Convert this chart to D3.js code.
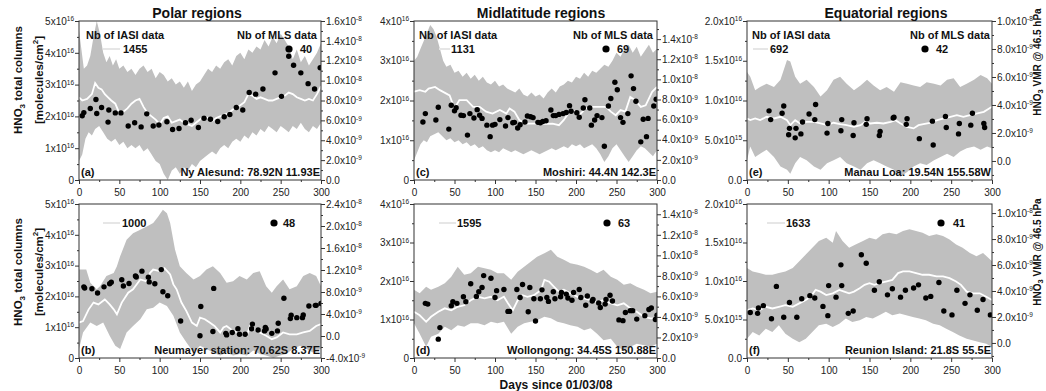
<!DOCTYPE html>
<html>
<head>
<meta charset="utf-8">
<script src="https://cdn.jsdelivr.net/npm/d3@7"></script>
<style>
  body { margin: 0; background: #fff; }
  svg { font-family: "Liberation Sans", Arial, sans-serif; }
  .axis text { font-size: 10px; fill: #222; }
  .axis .domain { stroke: none; }
  .axis line { stroke: #333; }
  .lbl { font-weight: bold; fill: #111; }
</style>
</head>
<body>
<svg id="chart" width="1046" height="391"></svg>
<script>
// values in 1e16 molecules/cm2, x in days since 01/03/08
const xTicks = [0, 50, 100, 150, 200, 250, 300];

// (a) Ny Alesund
const iasiUpperA = [[0,4.7],[3,4.1],[6,3.5],[10,3.6],[14,3.9],[18,4.5],[22,5.0],[26,4.6],[30,4.0],[34,3.7],[38,3.9],[42,3.6],[46,3.8],[50,3.5],[55,3.6],[60,3.4],[65,3.5],[70,3.3],[75,3.5],[80,3.6],[85,3.4],[90,3.5],[95,3.2],[100,3.4],[105,3.3],[110,3.1],[115,3.2],[120,3.0],[125,3.1],[130,2.9],[135,3.1],[140,2.8],[145,3.0],[150,3.1],[155,3.3],[160,3.5],[165,3.4],[170,3.6],[175,3.5],[180,3.7],[185,3.8],[190,3.6],[195,3.9],[200,4.0],[205,3.8],[210,4.1],[215,4.0],[220,4.2],[225,4.1],[230,4.4],[235,4.2],[240,4.5],[245,4.3],[250,4.6],[255,4.4],[260,4.2],[265,3.8],[270,4.1],[275,3.7],[280,3.9],[285,3.6],[290,3.8],[295,4.0],[300,4.3]];
const iasiMeanA = [[0,2.6],[4,2.5],[10,2.55],[16,2.7],[20,3.05],[24,2.9],[28,2.85],[32,2.7],[36,2.6],[40,2.5],[45,2.4],[50,2.1],[55,2.15],[60,2.25],[65,2.4],[70,2.5],[75,2.55],[80,2.3],[85,2.1],[90,2.0],[95,1.9],[100,1.75],[105,1.95],[110,2.0],[115,1.8],[120,1.85],[125,1.9],[130,1.8],[135,1.75],[140,1.7],[145,1.8],[150,1.9],[155,2.0],[160,1.95],[165,1.85],[170,1.95],[175,2.0],[180,2.05],[185,2.1],[190,2.2],[195,2.3],[200,2.35],[205,2.45],[210,2.7],[215,2.65],[220,2.55],[225,2.6],[230,2.55],[235,2.5],[240,2.5],[245,2.55],[250,2.6],[255,2.65],[260,2.75],[265,2.7],[270,2.6],[275,2.55],[280,2.5],[285,2.55],[290,2.5],[295,2.7],[300,2.95]];
const iasiLowerA = [[0,0.6],[4,0.8],[8,1.3],[12,1.5],[16,1.4],[20,1.6],[25,1.7],[30,1.5],[35,1.3],[40,1.2],[45,1.3],[50,1.1],[55,1.2],[60,1.0],[65,1.1],[70,1.0],[75,1.1],[80,0.9],[85,1.0],[90,0.8],[95,0.6],[100,0.5],[105,0.2],[110,0.0],[115,0.3],[120,0.4],[125,0.2],[130,0.4],[135,0.3],[140,0.5],[145,0.4],[150,0.6],[155,0.7],[160,0.8],[165,0.9],[170,0.8],[175,1.0],[180,1.1],[185,1.0],[190,1.2],[195,1.3],[200,1.2],[205,1.4],[210,1.3],[215,1.5],[220,1.4],[225,1.6],[230,1.5],[235,1.7],[240,1.6],[245,1.5],[250,1.7],[255,1.6],[260,1.5],[265,1.7],[270,1.6],[275,1.8],[280,1.6],[285,1.5],[290,1.7],[295,1.6],[300,1.8]];
const mlsA = [[4,2.02],[6,2.12],[14,2.25],[21,2.53],[22,2.09],[28,2.28],[36,1.82],[37,2.2],[45,2.11],[52,2.11],[61,1.70],[69,1.80],[77,1.67],[84,2.08],[92,1.70],[99,1.73],[109,1.83],[116,1.59],[124,1.62],[132,1.80],[139,1.88],[148,1.65],[155,1.94],[163,1.91],[172,1.84],[180,1.99],[187,2.06],[195,2.28],[203,2.20],[211,2.75],[219,2.70],[228,2.86],[243,3.37],[251,2.63],[260,3.89],[266,3.61],[275,3.37],[284,3.03],[292,2.86],[299,3.53]];

// (c) Moshiri
const iasiUpperC = [[0,3.0],[4,3.1],[8,3.3],[12,3.5],[16,3.7],[20,3.9],[24,3.8],[28,3.6],[32,3.3],[36,3.0],[40,2.85],[45,2.9],[50,2.7],[55,2.75],[60,2.6],[65,2.7],[70,2.55],[75,2.65],[80,2.5],[85,2.6],[90,2.45],[95,2.4],[100,2.5],[105,2.35],[110,2.4],[115,2.3],[120,2.25],[125,2.2],[130,2.3],[135,2.15],[140,2.1],[145,2.2],[150,2.1],[155,2.15],[160,2.05],[165,2.2],[170,2.3],[175,2.2],[180,2.35],[185,2.4],[190,2.5],[195,2.45],[200,2.6],[205,2.55],[210,2.7],[215,2.6],[220,2.75],[225,2.7],[230,2.8],[235,2.9],[240,2.85],[245,3.0],[250,3.2],[255,3.1],[260,3.3],[265,3.4],[270,3.2],[275,3.35],[280,3.1],[285,3.25],[290,3.4],[295,3.2],[300,3.3]];
const iasiMeanC = [[0,2.22],[7,2.26],[14,2.22],[18,2.30],[26,2.34],[32,2.26],[44,2.13],[50,1.80],[56,2.01],[65,2.01],[73,1.84],[81,1.84],[89,1.72],[97,1.67],[106,1.76],[114,1.67],[118,1.80],[124,1.72],[130,1.51],[138,1.42],[147,1.42],[155,1.42],[163,1.41],[171,1.42],[179,1.38],[185,1.51],[192,1.72],[196,1.76],[204,1.63],[212,1.80],[220,1.84],[228,1.84],[237,1.84],[243,1.72],[249,1.63],[255,1.76],[261,1.72],[267,2.09],[273,2.01],[280,1.84],[286,1.88],[294,2.22],[300,2.34]];
const iasiLowerC = [[0,0.5],[4,0.7],[8,0.9],[12,1.0],[16,0.95],[20,1.1],[25,1.15],[30,1.2],[35,1.1],[40,1.0],[45,1.05],[50,0.95],[55,1.0],[60,0.9],[65,0.95],[70,0.85],[75,0.9],[80,0.8],[85,0.85],[90,0.75],[95,0.7],[100,0.75],[105,0.7],[110,0.8],[115,0.75],[120,0.7],[125,0.75],[130,0.7],[135,0.65],[140,0.7],[145,0.75],[150,0.7],[155,0.65],[160,0.7],[165,0.75],[170,0.8],[175,0.75],[180,0.8],[185,0.85],[190,0.8],[195,0.9],[200,0.85],[205,0.9],[210,0.8],[215,0.85],[220,0.9],[225,0.8],[230,0.65],[235,0.45],[240,0.6],[245,0.8],[250,0.9],[255,0.75],[260,0.6],[265,0.45],[270,0.6],[275,0.75],[280,0.85],[285,0.8],[290,0.7],[295,0.6],[300,0.75]];
const mlsC = [[11,1.46],[14,1.67],[27,1.51],[30,1.83],[43,1.28],[46,1.88],[50,1.74],[52,1.82],[58,1.63],[61,1.62],[66,1.13],[69,1.67],[74,1.56],[78,1.77],[81,1.63],[84,1.55],[90,1.38],[94,1.09],[97,1.38],[100,1.40],[106,1.52],[113,1.36],[116,1.57],[122,1.44],[124,1.45],[128,1.31],[131,1.39],[137,1.46],[140,1.61],[144,1.59],[147,1.57],[153,1.45],[156,1.44],[159,1.47],[163,1.49],[169,1.76],[172,1.62],[175,1.62],[179,1.65],[184,1.67],[188,1.70],[192,1.87],[194,1.73],[201,1.69],[204,1.58],[209,1.81],[211,2.02],[217,1.81],[219,1.38],[223,1.51],[226,1.62],[232,1.57],[235,0.85],[240,1.86],[243,2.05],[248,2.46],[251,2.27],[255,1.57],[258,1.45],[264,1.67],[268,2.62],[271,2.30],[274,1.98],[280,0.96],[283,1.53],[287,1.09],[289,1.55],[296,1.86],[299,2.03]];

// (e) Manau Loa
const iasiUpperE = [[0,1.36],[4,1.30],[10,1.13],[16,1.17],[24,1.21],[33,1.17],[41,1.26],[49,1.51],[53,1.49],[59,1.30],[65,1.21],[73,1.26],[82,1.17],[90,1.05],[98,1.13],[106,1.26],[114,1.30],[122,1.21],[131,1.13],[139,1.19],[147,1.26],[155,1.19],[163,1.13],[171,1.17],[180,1.11],[188,1.23],[196,1.21],[204,1.19],[212,1.17],[220,1.23],[229,1.21],[237,1.19],[245,1.26],[253,1.28],[261,1.17],[269,1.21],[278,1.26],[286,1.32],[294,1.28],[300,1.21]];
const iasiMeanE = [[0,0.774],[4,0.753],[10,0.774],[16,0.753],[24,0.795],[33,0.774],[41,0.795],[49,0.753],[53,0.690],[59,0.753],[65,0.711],[73,0.732],[82,0.732],[90,0.711],[98,0.690],[106,0.720],[114,0.703],[122,0.690],[131,0.669],[139,0.690],[145,0.732],[151,0.711],[159,0.720],[167,0.711],[176,0.732],[182,0.753],[188,0.711],[196,0.669],[204,0.649],[210,0.690],[216,0.703],[224,0.720],[233,0.753],[241,0.774],[249,0.795],[257,0.816],[265,0.795],[273,0.816],[282,0.837],[290,0.858],[300,0.921]];
const iasiLowerE = [[0,0.25],[4,0.42],[10,0.29],[16,0.33],[24,0.38],[33,0.29],[41,0.17],[49,0.13],[53,0.08],[59,0.21],[65,0.29],[73,0.25],[82,0.17],[90,0.13],[98,0.21],[106,0.25],[114,0.29],[122,0.21],[131,0.17],[139,0.13],[147,0.21],[155,0.25],[163,0.21],[171,0.17],[180,0.13],[188,0.04],[196,0.10],[204,0.17],[212,0.21],[220,0.19],[229,0.25],[237,0.29],[245,0.33],[253,0.29],[261,0.36],[269,0.40],[278,0.42],[286,0.38],[294,0.42],[300,0.40]];
const mlsE = [[27,0.87],[29,0.76],[43,0.84],[45,0.93],[51,0.57],[52,0.65],[59,0.53],[60,0.65],[66,0.58],[68,0.73],[76,0.83],[83,0.76],[84,0.95],[98,0.59],[99,0.71],[115,0.62],[116,0.76],[130,0.56],[131,0.72],[146,0.70],[147,0.77],[162,0.56],[163,0.61],[179,0.78],[180,0.79],[195,0.70],[196,0.77],[211,0.52],[227,0.74],[228,0.44],[243,0.80],[244,0.66],[259,0.58],[260,0.71],[274,0.69],[276,0.84],[290,0.71],[291,0.66]];

// (b) Neumayer station
const iasiUpperB = [[0,2.87],[9,2.87],[14,2.44],[22,2.23],[26,2.33],[34,2.66],[43,2.76],[47,2.98],[51,3.30],[59,3.84],[67,4.05],[76,4.16],[84,4.27],[92,4.38],[98,4.59],[104,4.81],[109,4.70],[113,4.38],[119,3.52],[125,2.98],[133,2.76],[142,2.55],[150,2.66],[158,2.87],[166,2.98],[175,2.76],[183,2.44],[191,2.49],[199,2.66],[208,2.55],[216,2.76],[224,2.82],[232,2.33],[239,2.12],[245,2.33],[253,2.55],[261,2.23],[270,2.33],[278,2.66],[286,2.76],[294,2.66],[300,2.33]];
const iasiMeanB = [[0,1.15],[5,1.20],[12,1.58],[18,1.80],[24,1.74],[32,1.90],[38,1.74],[43,1.58],[47,1.42],[53,1.80],[61,2.12],[67,2.23],[76,2.55],[84,2.49],[88,2.76],[92,2.87],[100,2.82],[106,2.92],[113,2.71],[117,2.39],[121,2.23],[127,1.80],[133,1.53],[140,1.15],[146,1.04],[150,1.31],[156,1.26],[162,1.15],[168,1.04],[175,0.83],[179,0.99],[183,1.04],[191,0.88],[199,0.83],[208,0.72],[212,1.04],[218,0.94],[224,0.83],[232,0.72],[239,0.61],[245,0.67],[253,0.83],[261,0.77],[270,0.77],[278,0.83],[286,0.88],[294,1.04],[300,1.10]];
const iasiLowerB = [[0,0.29],[5,0.83],[14,1.15],[22,1.04],[30,1.15],[38,0.72],[45,0.40],[51,0.29],[59,0.83],[67,1.04],[76,1.26],[84,1.58],[92,1.63],[100,1.80],[109,1.69],[117,1.37],[125,0.83],[133,0.51],[142,0.18],[150,0.40],[158,0.29],[166,0.18],[175,0.08],[183,0.18],[191,0.08],[199,0.13],[208,0.08],[216,0.24],[224,0.13],[232,0.08],[241,0.00],[249,0.08],[257,0.13],[265,0.29],[274,0.40],[282,0.29],[290,0.18],[300,0.29]];
const mlsB = [[6,2.31],[7,2.27],[16,2.25],[23,2.11],[31,2.31],[38,2.41],[40,2.46],[53,2.54],[55,2.34],[62,2.42],[70,2.66],[71,2.63],[78,2.82],[86,2.62],[87,2.47],[94,2.41],[102,2.87],[104,2.15],[110,2.02],[126,1.20],[150,0.72],[151,1.67],[166,0.86],[167,2.26],[182,0.80],[183,0.75],[190,0.83],[197,0.95],[199,0.77],[206,0.77],[214,0.95],[215,1.10],[222,0.91],[230,0.88],[231,0.99],[232,0.94],[239,0.80],[246,0.88],[247,1.13],[254,1.94],[262,1.28],[263,1.39],[270,1.31],[277,1.31],[278,1.40],[285,1.69],[293,1.71],[294,1.71],[300,1.77]];

// (d) Wollongong
const iasiUpperD = [[0,1.77],[7,1.68],[15,1.85],[21,1.77],[30,1.85],[38,1.94],[46,2.11],[54,2.37],[62,2.16],[70,2.20],[79,2.37],[87,2.33],[95,2.29],[103,2.20],[111,2.20],[120,2.03],[128,2.24],[136,2.37],[144,2.50],[152,2.63],[161,2.72],[169,2.81],[177,2.63],[185,2.55],[193,2.46],[202,2.42],[210,2.37],[218,2.29],[226,2.20],[234,2.29],[243,2.11],[251,2.03],[259,1.90],[267,1.94],[275,1.85],[284,1.77],[292,1.68],[300,1.72]];
const iasiMeanD = [[0,1.20],[7,1.11],[15,0.94],[21,1.07],[30,1.20],[38,1.29],[46,1.24],[54,1.33],[62,1.37],[70,1.50],[79,1.59],[87,1.55],[95,1.59],[103,1.50],[111,1.59],[116,1.42],[122,1.24],[128,1.50],[134,1.63],[140,1.59],[148,1.63],[157,1.77],[161,2.03],[167,1.98],[173,1.85],[179,1.72],[185,1.77],[193,1.68],[202,1.59],[210,1.55],[218,1.50],[226,1.46],[234,1.50],[243,1.42],[251,1.37],[259,1.42],[267,1.29],[275,1.20],[284,1.07],[292,1.03],[300,1.03]];
const iasiLowerD = [[0,0.90],[7,0.63],[15,0.29],[21,0.55],[30,0.63],[38,0.81],[46,0.72],[54,0.85],[62,0.81],[70,0.90],[79,0.90],[87,0.85],[95,0.94],[103,0.90],[111,0.94],[120,0.63],[128,0.81],[136,0.90],[144,0.94],[152,0.98],[161,1.07],[169,1.03],[177,0.94],[185,0.90],[193,0.85],[202,0.81],[210,0.72],[218,0.77],[226,0.63],[234,0.46],[243,0.50],[251,0.29],[259,0.20],[267,0.29],[275,0.37],[284,0.33],[292,0.29],[300,0.37]];
const mlsD = [[14,1.42],[17,1.40],[30,0.49],[32,0.79],[46,1.36],[48,1.46],[53,1.42],[61,1.59],[64,1.46],[70,1.93],[77,1.60],[80,1.72],[84,1.83],[86,2.14],[95,2.07],[100,1.57],[102,1.75],[111,1.78],[116,1.21],[118,1.21],[127,1.78],[131,1.57],[134,1.91],[141,1.20],[143,1.83],[148,1.54],[150,0.96],[156,1.54],[158,1.77],[164,1.57],[166,1.47],[172,1.72],[174,1.54],[181,1.59],[182,1.70],[188,1.66],[190,1.56],[195,1.50],[197,1.70],[204,1.78],[206,1.57],[212,1.37],[214,1.61],[220,1.48],[221,1.52],[228,1.43],[230,1.31],[236,1.40],[237,1.52],[242,1.63],[245,1.48],[253,0.99],[258,0.97],[261,1.18],[267,1.23],[270,1.23],[275,1.01],[285,1.10],[290,1.26],[293,1.30],[298,1.00],[300,1.11]];

// (f) Reunion Island
const iasiUpperF = [[0,1.168],[7,1.125],[15,1.103],[23,1.081],[31,1.081],[39,1.103],[47,1.125],[56,1.168],[64,1.256],[72,1.344],[80,1.431],[88,1.519],[97,1.562],[105,1.497],[109,1.650],[117,1.519],[125,1.431],[133,1.475],[142,1.519],[150,1.562],[158,1.540],[166,1.606],[174,1.628],[183,1.606],[191,1.650],[199,1.672],[207,1.650],[215,1.628],[223,1.584],[232,1.606],[240,1.584],[248,1.540],[256,1.475],[264,1.431],[273,1.365],[281,1.322],[289,1.365],[300,1.256]];
const iasiMeanF = [[0,0.621],[7,0.643],[15,0.621],[23,0.665],[31,0.643],[39,0.665],[47,0.687],[56,0.665],[64,0.709],[72,0.753],[78,0.796],[84,0.884],[90,0.862],[97,0.818],[105,0.840],[113,0.884],[119,0.862],[125,0.840],[131,0.862],[138,0.906],[144,0.950],[150,0.972],[156,0.950],[162,0.972],[170,0.993],[178,1.015],[185,1.103],[191,1.125],[199,1.125],[207,1.103],[215,1.081],[223,1.081],[232,1.059],[240,1.059],[248,1.037],[256,0.993],[262,0.950],[269,0.862],[277,0.840],[285,0.840],[293,0.796],[300,0.753]];
const iasiLowerF = [[0,0.249],[7,0.337],[15,0.293],[23,0.381],[31,0.337],[39,0.425],[47,0.315],[56,0.249],[64,0.206],[72,0.249],[80,0.337],[88,0.425],[97,0.446],[105,0.403],[113,0.446],[121,0.512],[129,0.468],[138,0.490],[146,0.534],[154,0.512],[162,0.556],[170,0.600],[178,0.556],[187,0.578],[195,0.556],[203,0.534],[211,0.512],[219,0.490],[228,0.446],[236,0.425],[244,0.381],[252,0.337],[260,0.293],[269,0.249],[277,0.228],[285,0.206],[293,0.184],[300,0.140]];
const mlsF = [[4,0.59],[13,0.58],[14,0.65],[20,0.68],[30,0.51],[36,0.93],[45,0.53],[52,0.72],[61,0.53],[67,0.77],[77,0.81],[83,0.78],[93,0.67],[99,0.55],[100,0.94],[109,0.79],[115,1.21],[116,0.94],[124,0.58],[130,0.61],[140,1.34],[146,1.23],[156,0.88],[162,0.99],[172,0.82],[178,0.90],[188,0.79],[194,0.88],[204,0.91],[210,0.95],[219,0.78],[225,0.80],[235,0.98],[241,0.61],[251,0.56],[257,0.88],[267,0.71],[273,0.82],[282,0.62],[289,0.76],[298,0.56]];

// axis ranges and ticks (left: 1e16 molecules/cm2, right: 1e-9 VMR)
const leftTicksInt = [0, 1, 2, 3, 4, 5];
const leftTicksIntMid = [0, 1, 2, 3, 4];
const leftTicksDec = [0, 0.5, 1.0, 1.5, 2.0];
const rightTicksA = [0, 2, 4, 6, 8, 10, 12, 14, 16];
const rightTicksC = [0, 2, 4, 6, 8, 10, 12, 14];
const rightTicksB = [-4, 0, 4, 8, 12, 16, 20, 24];
const rightTicksE = [0, 2, 4, 6, 8, 10];

const regionTitles = ["Polar regions", "Midlatitude regions", "Equatorial regions"];
const stations = ["Ny Alesund: 78.92N 11.93E", "Moshiri: 44.4N 142.3E", "Manau Loa: 19.54N 155.58W",
                  "Neumayer station: 70.62S 8.37E", "Wollongong: 34.45S 150.88E", "Reunion Island: 21.8S 55.5E"];
const panelLetters = ["(a)", "(c)", "(e)", "(b)", "(d)", "(f)"];
const nbIasi = [1455, 1131, 692, 1000, 1595, 1633];
const nbMls = [40, 69, 42, 48, 63, 41];

// layout
const cols = [[79, 321], [414, 657], [747, 992]];
const rows = [[21, 180], [204, 358]];
const titleX = [197, 541, 886];

const panels = [
  { i: 0, row: 0, col: 0, up: iasiUpperA, mean: iasiMeanA, lo: iasiLowerA, mls: mlsA, lDom: [0, 5], lTicks: leftTicksInt, lMode: 'int', lMinor: 0.5, rDom: [0, 16], rTicks: rightTicksA, rMinor: 1, leg: [24, 41, 44], dot: [32, 21] },
  { i: 1, row: 0, col: 1, up: iasiUpperC, mean: iasiMeanC, lo: iasiLowerC, mls: mlsC, lDom: [0, 4], lTicks: leftTicksIntMid, lMode: 'int', lMinor: 0.5, rDom: [0, 15.8], rTicks: rightTicksC, rMinor: 1, leg: [25, 36, 37], dot: [51, 40] },
  { i: 2, row: 0, col: 2, up: iasiUpperE, mean: iasiMeanE, lo: iasiLowerE, mls: mlsE, lDom: [0, 2], lTicks: leftTicksDec, lMode: 'dec', lMinor: 0.25, rDom: [-1.36, 10], rTicks: rightTicksE, rMinor: 1, leg: [6, 21, 23], dot: [67, 56] },
  { i: 3, row: 1, col: 0, up: iasiUpperB, mean: iasiMeanB, lo: iasiLowerB, mls: mlsB, lDom: [0, 5], lTicks: leftTicksInt, lMode: 'int', lMinor: 0.5, rDom: [-4, 24], rTicks: rightTicksB, rMinor: 2, leg: [24, 41, 43], dot: [47, 38] },
  { i: 4, row: 1, col: 1, up: iasiUpperD, mean: iasiMeanD, lo: iasiLowerD, mls: mlsD, lDom: [0, 4], lTicks: leftTicksIntMid, lMode: 'int', lMinor: 0.5, rDom: [0, 15], rTicks: rightTicksC, rMinor: 1, leg: [25, 42, 43], dot: [50, 39] },
  { i: 5, row: 1, col: 2, up: iasiUpperF, mean: iasiMeanF, lo: iasiLowerF, mls: mlsF, lDom: [0, 2], lTicks: leftTicksDec, lMode: 'dec', lMinor: 0.25, rDom: [-1.16, 10.7], rTicks: rightTicksE, rMinor: 1, leg: [20, 38, 39], dot: [51, 39] }
];

const svg = d3.select('#chart');

function sciText(sel, base, exp) {
  sel.text(null);
  sel.append('tspan').text(base);
  if (exp) sel.append('tspan').attr('dy', '-0.55em').attr('font-size', '6.5px').text(exp);
}

function leftLabel(v, mode) {
  if (v === 0) return [mode === 'dec' ? '0.0' : '0', null];
  if (mode === 'int') return [v + 'x10', '16'];
  if (v >= 1) return [v.toFixed(1) + 'x10', '16'];
  return [(v * 10).toFixed(1) + 'x10', '15'];
}

function rightLabel(v) {
  if (v === 0) return ['0.0', null];
  if (Math.abs(v) >= 10) return [(v / 10).toFixed(1) + 'x10', '-8'];
  return [v.toFixed(1) + 'x10', '-9'];
}

panels.forEach(p => {
  const [x0, x1] = cols[p.col];
  const [y0, y1] = rows[p.row];
  const x = d3.scaleLinear().domain([0, 300]).range([x0, x1]);
  const yL = d3.scaleLinear().domain(p.lDom).range([y1, y0]);
  const yR = d3.scaleLinear().domain(p.rDom).range([y1, y0]);

  const clipId = 'clip' + p.i;
  svg.append('clipPath').attr('id', clipId)
    .append('rect').attr('x', x0).attr('y', y0).attr('width', x1 - x0).attr('height', y1 - y0);

  const g = svg.append('g').attr('clip-path', `url(#${clipId})`);

  // IASI min-max band
  const line = d3.line().x(d => x(d[0])).y(d => yL(d[1]));
  g.append('path')
    .attr('d', line(p.up.concat(p.lo.slice().reverse())) + 'Z')
    .attr('fill', '#bfbfbf');

  // IASI mean
  g.append('path')
    .attr('d', line(p.mean))
    .attr('fill', 'none')
    .attr('stroke', '#fff')
    .attr('stroke-width', 1.8);

  // MLS points
  g.selectAll('circle.mls').data(p.mls).enter()
    .append('circle')
    .attr('cx', d => x(d[0]))
    .attr('cy', d => yL(d[1]))
    .attr('r', 2.7)
    .attr('fill', '#000');

  // frame
  svg.append('rect')
    .attr('x', x0).attr('y', y0).attr('width', x1 - x0).attr('height', y1 - y0)
    .attr('fill', 'none').attr('stroke', '#333').attr('stroke-width', 1);

  // bottom axis
  svg.append('g').attr('class', 'axis').attr('transform', `translate(0,${y1})`)
    .call(d3.axisBottom(x).tickValues(d3.range(25, 300, 50)).tickSize(2).tickFormat(''));
  svg.append('g').attr('class', 'axis').attr('transform', `translate(0,${y1})`)
    .call(d3.axisBottom(x).tickValues(xTicks).tickSize(4).tickPadding(5));

  // left axis
  const lMinors = d3.range(p.lDom[0], p.lDom[1] + 1e-9, p.lMinor).filter(v => !p.lTicks.some(t => Math.abs(t - v) < 1e-9));
  svg.append('g').attr('class', 'axis').attr('transform', `translate(${x0},0)`)
    .call(d3.axisLeft(yL).tickValues(lMinors).tickSize(2).tickFormat(''));
  svg.append('g').attr('class', 'axis').attr('transform', `translate(${x0},0)`)
    .call(d3.axisLeft(yL).tickValues(p.lTicks).tickSize(4).tickPadding(1))
    .selectAll('.tick text').each(function(d) {
      const [b, e] = leftLabel(d, p.lMode);
      sciText(d3.select(this), b, e);
    });

  // right axis
  const rMinors = d3.range(Math.ceil(p.rDom[0]), p.rDom[1], p.rMinor).filter(v => !p.rTicks.includes(v));
  svg.append('g').attr('class', 'axis').attr('transform', `translate(${x1},0)`)
    .call(d3.axisRight(yR).tickValues(rMinors).tickSize(2).tickFormat(''));
  svg.append('g').attr('class', 'axis').attr('transform', `translate(${x1},0)`)
    .call(d3.axisRight(yR).tickValues(p.rTicks).tickSize(4).tickPadding(1))
    .selectAll('.tick text').each(function(d) {
      const [b, e] = rightLabel(d);
      sciText(d3.select(this), b, e);
    });

  // legend
  const top = p.row === 0;
  const legY = y0 + (top ? 28 : 19);
  if (top) {
    svg.append('text').attr('class', 'lbl').attr('font-size', 11)
      .attr('x', x0 + (p.col === 0 ? 7 : 5)).attr('y', y0 + 18).text('Nb of IASI data');
    svg.append('text').attr('class', 'lbl').attr('font-size', 11).attr('text-anchor', 'end')
      .attr('x', x1 - (p.col === 2 ? 2 : 4)).attr('y', y0 + 18).text('Nb of MLS data');
  }
  svg.append('line')
    .attr('x1', x0 + p.leg[0]).attr('x2', x0 + p.leg[1]).attr('y1', legY).attr('y2', legY)
    .attr('stroke', '#e6e6e6').attr('stroke-width', 2);
  svg.append('text').attr('class', 'lbl').attr('font-size', 11)
    .attr('x', x0 + p.leg[2]).attr('y', legY + 4).text(nbIasi[p.i]);
  svg.append('circle').attr('cx', x1 - p.dot[0]).attr('cy', legY).attr('r', 3.6).attr('fill', '#000');
  svg.append('text').attr('class', 'lbl').attr('font-size', 11)
    .attr('x', x1 - p.dot[1]).attr('y', legY + 4).text(nbMls[p.i]);

  // panel letter and station
  svg.append('text').attr('class', 'lbl').attr('font-size', 11)
    .attr('x', x0 + 2).attr('y', y1 - 4).text(panelLetters[p.i]);
  svg.append('text').attr('class', 'lbl').attr('font-size', 11).attr('text-anchor', 'end')
    .attr('x', x1 - 1).attr('y', y1 - 4).text(stations[p.i]);
});

// column titles
regionTitles.forEach((t, i) => {
  svg.append('text').attr('class', 'lbl').attr('font-size', 14).attr('text-anchor', 'middle')
    .attr('x', titleX[i]).attr('y', 18).text(t);
});

// left axis titles
[80, 272].forEach(cy => {
  const t1 = svg.append('text').attr('class', 'lbl').attr('font-size', 11.5).attr('text-anchor', 'middle')
    .attr('transform', `translate(22,${cy}) rotate(-90)`);
  t1.append('tspan').text('HNO');
  t1.append('tspan').attr('font-size', 8).attr('dy', 3).text('3');
  t1.append('tspan').attr('dy', -3).text(' total columns');
  const t2 = svg.append('text').attr('class', 'lbl').attr('font-size', 11.5).attr('text-anchor', 'middle')
    .attr('transform', `translate(43,${cy}) rotate(-90)`);
  t2.append('tspan').text('[molecules/cm');
  t2.append('tspan').attr('font-size', 8).attr('dy', -5).text('2');
  t2.append('tspan').attr('dy', 5).text(']');
});

// right axis titles
[62, 252].forEach(cy => {
  const t = svg.append('text').attr('class', 'lbl').attr('font-size', 10).attr('text-anchor', 'middle')
    .attr('transform', `translate(1041,${cy}) rotate(-90)`);
  t.append('tspan').text('HNO');
  t.append('tspan').attr('font-size', 7.5).attr('dy', 2).text('3');
  t.append('tspan').attr('dy', -2).text(' VMR @ 46.5 hPa');
});

// x title
svg.append('text').attr('class', 'lbl').attr('font-size', 12).attr('text-anchor', 'middle')
  .attr('x', 556).attr('y', 389).text('Days since 01/03/08');
</script>
</body>
</html>
